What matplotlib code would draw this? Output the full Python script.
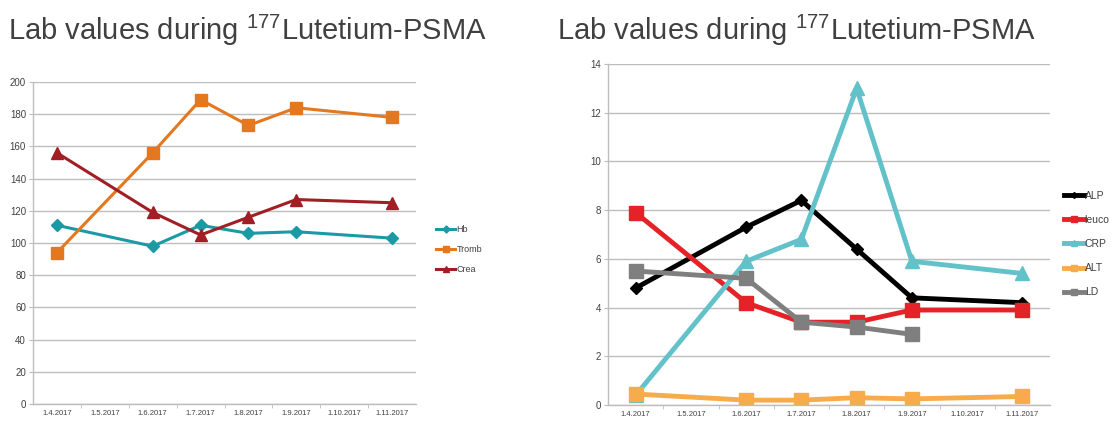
import matplotlib
matplotlib.use('Agg')
import matplotlib.pyplot as plt
import numpy as np

plt.rcParams['font.family'] = ['Liberation Sans', 'DejaVu Sans']
plt.rcParams['mathtext.fontset'] = 'custom'
plt.rcParams['mathtext.rm'] = 'Liberation Sans'

dates = ['1.4.2017', '1.5.2017', '1.6.2017', '1.7.2017', '1.8.2017',
         '1.9.2017', '1.10.2017', '1.11.2017']
# indices of dates with measurements (1.5 and 1.10 are empty)
meas_idx = [0, 2, 3, 4, 5, 7]

hb = [111, 98, 111, 106, 107, 103]
tromb = [94, 156, 189, 173, 184, 178]
crea = [156, 119, 105, 116, 127, 125]

alp = [4.8, 7.3, 8.4, 6.4, 4.4, 4.2]
leuco = [7.9, 4.2, 3.4, 3.4, 3.9, 3.9]
crp = [0.4, 5.9, 6.8, 13.0, 5.9, 5.4]
alt = [0.45, 0.2, 0.2, 0.3, 0.25, 0.35]
ld = [5.5, 5.2, 3.4, 3.2, 2.9]
ld_idx = [0, 2, 3, 4, 5]

grid_col = '#bdbdbd'
text_col = '#404040'


def style_axis(ax, ymax, ystep):
    ax.set_xlim(-0.5, len(dates) - 0.5)
    ax.set_ylim(0, ymax)
    ax.set_yticks(np.arange(0, ymax + 1, ystep))
    ax.set_xticks(range(len(dates)))
    ax.set_xticklabels(dates, fontsize=5.5, color=text_col)
    ax.set_xticks(np.arange(0.5, len(dates) - 0.5, 1), minor=True)
    ax.tick_params(axis='x', which='major', length=0, pad=4)
    ax.tick_params(axis='x', which='minor', length=3, color=grid_col)
    ax.tick_params(axis='y', length=3, color=grid_col, labelsize=7,
                   labelcolor=text_col, pad=2)
    ax.grid(axis='y', color=grid_col, linewidth=1)
    ax.set_axisbelow(True)
    for s in ['top', 'right']:
        ax.spines[s].set_visible(False)
    for s in ['left', 'bottom']:
        ax.spines[s].set_color(grid_col)
        ax.spines[s].set_linewidth(1)


fig = plt.figure(figsize=(11.15, 4.21), dpi=100)

title = 'Lab values during $^{177}$Lutetium-PSMA'
fig.text(8 / 1115, 1 - 40 / 421, title, fontsize=21, color=text_col)
fig.text(557 / 1115, 1 - 40 / 421, title, fontsize=21, color=text_col)

# left chart
ax1 = fig.add_axes([33 / 1115, 1 - 404 / 421, 383 / 1115, 322 / 421])
ax1.plot(meas_idx, hb, color='#1b9aa6', lw=2.2, marker='D', ms=6, label='Hb')
ax1.plot(meas_idx, tromb, color='#e5781f', lw=2.2, marker='s', ms=8, label='Tromb')
ax1.plot(meas_idx, crea, color='#a11f24', lw=2.2, marker='^', ms=8, label='Crea')
style_axis(ax1, 200, 20)
ax1.legend(loc='upper left', bbox_to_anchor=(1.03, 0.58), frameon=False,
           fontsize=6.5, handlelength=2.2, handletextpad=0.1, labelspacing=1.2,
           markerscale=0.6, labelcolor=text_col)

# right chart
ax2 = fig.add_axes([608 / 1115, 1 - 405 / 421, 442 / 1115, 341 / 421])
ax2.plot(meas_idx, alp, color='#000000', lw=3.5, marker='D', ms=6, label='ALP')
ax2.plot(meas_idx, leuco, color='#e42228', lw=3.5, marker='s', ms=10, label='leuco')
ax2.plot(meas_idx, crp, color='#63c1c9', lw=3.5, marker='^', ms=10, label='CRP')
ax2.plot(meas_idx, alt, color='#f7ab4b', lw=3.5, marker='s', ms=10, label='ALT')
ax2.plot(ld_idx, ld, color='#7f7f7f', lw=3.5, marker='s', ms=10, label='LD')
style_axis(ax2, 14, 2)
ax2.legend(loc='upper left', bbox_to_anchor=(1.01, 0.655), frameon=False,
           fontsize=7.5, handlelength=1.9, handletextpad=0.1, labelspacing=1.35,
           markerscale=0.5, labelcolor=text_col)

fig.savefig('out.png', dpi=100)
